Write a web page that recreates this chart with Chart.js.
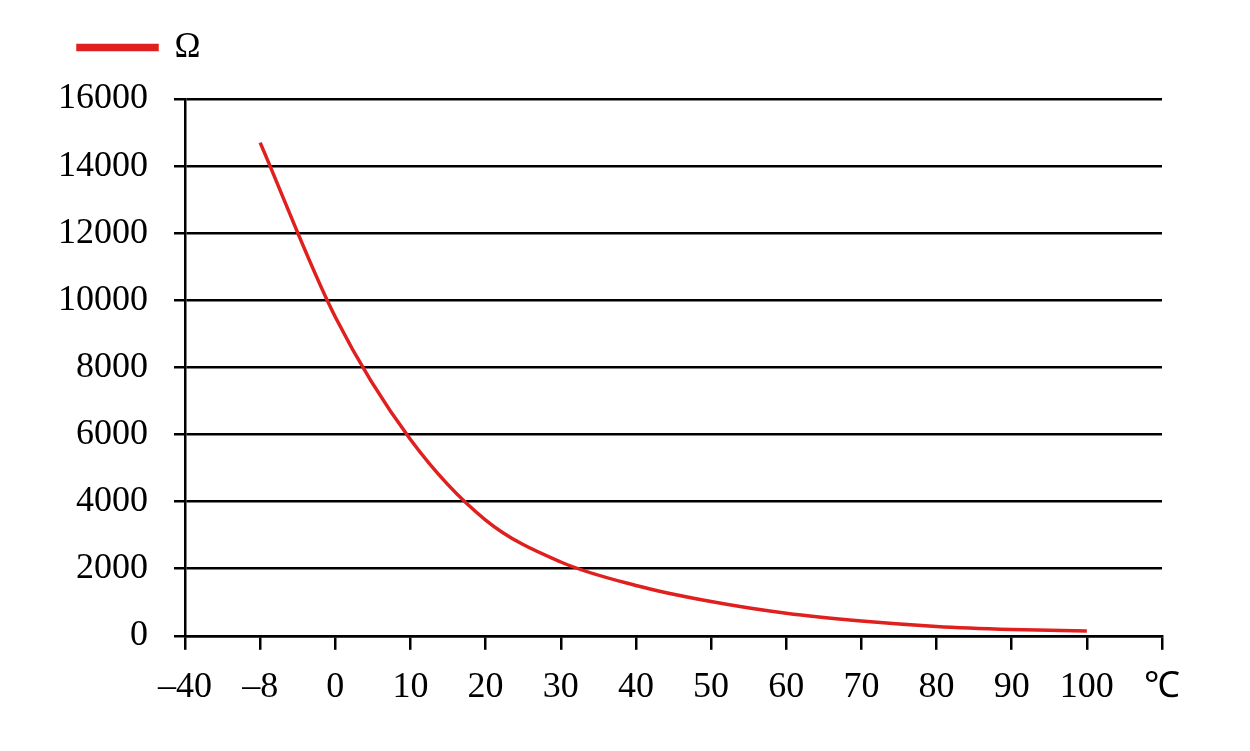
<!DOCTYPE html>
<html>
<head>
<meta charset="utf-8">
<script src="https://cdn.jsdelivr.net/npm/chart.js@4"></script>
<style>
  html, body { margin: 0; padding: 0; background: #fff; }
  #wrap { width: 1250px; height: 751px; }
</style>
</head>
<body>
<div id="wrap"><canvas id="myChart" width="1250" height="751"></canvas></div>
<script>
// temperature categories (evenly spaced on the axis)
const tempLabels = ["–40", "–8", "0", "10", "20", "30", "40", "50", "60", "70", "80", "90", "100", "℃"];
// resistance
const ohmValues = [null, 14700, 9500, 5850, 3450, 2200, 1500, 1020, 670, 440, 280, 190, 140, null];
const seriesName = "Ω";

const red = "#e0201f";
const font = { family: "'Liberation Serif', 'Times New Roman', serif", size: 36 };
const legendFont = { family: "'Liberation Serif', 'Times New Roman', serif", size: 35 };
const padLeft = 45;

// leave some room between the legend and the plot
const legendGap = {
  id: "legendGap",
  afterInit(chart) {
    const legend = chart.legend;
    if (!legend) return;
    const fit = legend.fit;
    legend.fit = function () {
      fit.call(this);
      this.height += 24;
    };
  },
};

const ctx = document.getElementById("myChart");

new Chart(ctx, {
  type: "line",
  data: {
    labels: tempLabels,
    datasets: [
      {
        label: seriesName,
        data: ohmValues,
        borderColor: red,
        backgroundColor: red,
        borderWidth: 3.5,
        pointRadius: 0,
        cubicInterpolationMode: "monotone",
        fill: false,
      },
    ],
  },
  options: {
    responsive: false,
    animation: false,
    layout: {
      padding: { left: padLeft, right: 88, top: -3, bottom: 26 },
    },
    plugins: {
      legend: {
        align: "start",
        labels: {
          boxWidth: 79,
          boxHeight: 4,
          padding: 33,
          color: "#000",
          font: legendFont,
        },
      },
      tooltip: { enabled: false },
    },
    scales: {
      x: {
        offset: false,
        grid: {
          drawOnChartArea: false,
          color: "#000",
          lineWidth: 2.5,
          tickLength: 14,
        },
        border: { color: "#000", width: 2.5 },
        ticks: {
          color: "#000",
          font: font,
          maxRotation: 0,
          autoSkip: false,
          padding: 16,
        },
      },
      y: {
        min: 0,
        max: 16000,
        afterFit: (scale) => {
          scale.width = 185 - padLeft;
        },
        grid: {
          color: "#000",
          lineWidth: 2.5,
          tickLength: 11,
        },
        border: { color: "#000", width: 2.5 },
        ticks: {
          stepSize: 2000,
          color: "#000",
          font: font,
          padding: 26,
          callback: (value) => String(value),
        },
      },
    },
  },
  plugins: [legendGap],
});
</script>
</body>
</html>
